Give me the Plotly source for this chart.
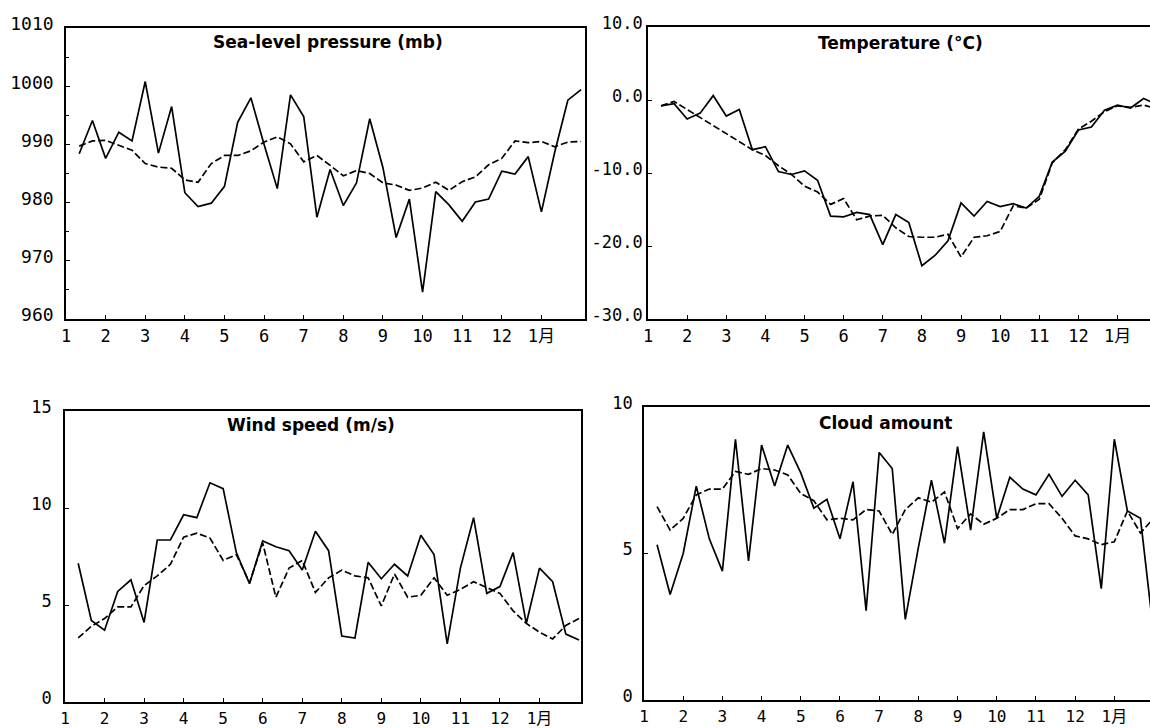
import plotly.graph_objects as go

W, H = 1150, 728

# Month axis: ticks at the start of each month, data at 10-day (dekad) steps
months = list(range(1, 14))
month_labels = [str(m) for m in range(1, 13)] + ["1月"]
dekad_x = [m + d / 3 for m in months for d in (1, 2, 3)]

# Sea-level pressure (mb): observed year and long-term mean
pressure_obs = [988.4, 994.1, 987.6, 992.1, 990.6, 1000.8, 988.5, 996.5, 981.7, 979.3,
                979.9, 982.8, 993.8, 998.0, 990.0, 982.4, 998.5, 994.8, 977.5, 985.7,
                979.5, 983.4, 994.4, 986.0, 974.0, 980.6, 964.6, 981.9, 979.6, 976.8,
                980.1, 980.6, 985.4, 984.9, 987.9, 978.4, 988.6, 997.6, 999.4]
pressure_mean = [989.7, 990.6, 990.7, 989.9, 989.0, 986.7, 986.1, 985.9, 983.9, 983.5,
                 986.7, 988.1, 988.1, 988.9, 990.4, 991.3, 990.1, 987.0, 988.1, 986.4,
                 984.6, 985.5, 985.0, 983.4, 983.0, 982.1, 982.5, 983.5, 982.1, 983.6,
                 984.4, 986.5, 987.6, 990.6, 990.3, 990.5, 989.6, 990.4, 990.5]

# Temperature (deg C)
temp_obs = [-0.8, -0.5, -2.6, -1.8, 0.6, -2.2, -1.3, -6.8, -6.4, -9.8,
            -10.2, -9.7, -11.0, -15.9, -16.0, -15.4, -15.7, -19.8, -15.7, -16.8,
            -22.7, -21.3, -19.3, -14.1, -15.9, -13.9, -14.6, -14.2, -14.8, -13.2,
            -8.5, -7.0, -4.1, -3.7, -1.4, -0.7, -1.1, 0.2, -0.6]
temp_mean = [-0.8, -0.2, -1.3, -2.4, -3.5, -4.6, -5.7, -6.8, -7.6, -9.0,
             -10.2, -11.8, -12.6, -14.3, -13.5, -16.4, -15.9, -15.8, -17.5, -18.7,
             -18.8, -18.8, -18.4, -21.5, -18.8, -18.6, -18.0, -14.5, -14.8, -13.6,
             -8.6, -6.8, -4.0, -2.9, -1.6, -0.8, -1.0, -0.7, -1.2]

# Wind speed (m/s)
wind_obs = [7.15, 4.2, 3.7, 5.7, 6.3, 4.1, 8.35, 8.35, 9.65, 9.5,
            11.3, 11.0, 7.7, 6.1, 8.3, 8.0, 7.8, 6.8, 8.8, 7.8,
            3.4, 3.3, 7.2, 6.35, 7.1, 6.5, 8.6, 7.6, 3.0, 6.9,
            9.5, 5.6, 5.95, 7.7, 4.05, 6.9, 6.2, 3.5, 3.2]
wind_mean = [3.3, 3.9, 4.3, 4.9, 4.9, 6.0, 6.5, 7.1, 8.5, 8.7,
             8.45, 7.3, 7.6, 6.15, 8.2, 5.4, 6.9, 7.3, 5.65, 6.4,
             6.8, 6.5, 6.4, 4.95, 6.6, 5.4, 5.5, 6.4, 5.5, 5.8,
             6.2, 5.9, 5.6, 4.7, 4.05, 3.6, 3.25, 3.95, 4.3]

# Cloud amount (tenths)
cloud_obs = [5.3, 3.6, 5.0, 7.3, 5.5, 4.4, 8.9, 4.75, 8.7, 7.3,
             8.7, 7.75, 6.55, 6.85, 5.5, 7.45, 3.05, 8.45, 7.9, 2.75,
             5.2, 7.5, 5.35, 8.65, 5.8, 9.15, 6.2, 7.6, 7.2, 7.0,
             7.7, 6.95, 7.5, 7.0, 3.8, 8.9, 6.45, 6.2, 2.3]
cloud_mean = [6.6, 5.8, 6.2, 7.0, 7.2, 7.2, 7.8, 7.7, 7.9, 7.85,
              7.68, 7.05, 6.8, 6.15, 6.2, 6.15, 6.5, 6.45, 5.65, 6.5,
              6.9, 6.75, 7.1, 5.85, 6.35, 6.0, 6.2, 6.5, 6.5, 6.7,
              6.7, 6.2, 5.6, 5.5, 5.3, 5.4, 6.45, 5.7, 6.2]

pressure_ticks = [960, 970, 980, 990, 1000, 1010]
temp_ticks = [-30, -20, -10, 0, 10]
wind_ticks = [0, 5, 10, 15]
cloud_ticks = [0, 5, 10]

MONO = "DejaVu Sans Mono, Noto Sans CJK JP"
TITLE_FONT = dict(family="DejaVu Sans", size=17, color="black")


def fx(p):
    return p / W


def fy(p):
    return 1 - p / H


# Panel frames in pixels: left, right, top, bottom
panels = [
    dict(obs=pressure_obs, mean=pressure_mean, box=(66, 585, 28, 319), xend=14.1,
         yrange=[960, 1010], yticks=pressure_ticks, ytext=[str(v) for v in pressure_ticks],
         closed=True, minor=5, standoff=7, fsize=18, xfsize=17,
         title="Sea-level pressure (mb)", tpos=(328, 42)),
    dict(obs=temp_obs, mean=temp_mean, box=(648, 1150, 27, 319), xend=13.83,
         yrange=[-30, 10], yticks=temp_ticks, ytext=[f"{v:.1f}" for v in temp_ticks],
         closed=False, minor=None, standoff=0, fsize=17, xfsize=17,
         title="Temperature (°C)", tpos=(900, 43)),
    dict(obs=wind_obs, mean=wind_mean, box=(65, 581, 411, 702), xend=14.05,
         yrange=[0, 15], yticks=wind_ticks, ytext=[str(v) for v in wind_ticks],
         closed=True, minor=None, standoff=8, fsize=17, xfsize=16,
         title="Wind speed (m/s)", tpos=(311, 425)),
    dict(obs=cloud_obs, mean=cloud_mean, box=(644, 1150, 407, 700), xend=13.91,
         yrange=[0, 10], yticks=cloud_ticks, ytext=[str(v) for v in cloud_ticks],
         closed=False, minor=None, standoff=6, fsize=17, xfsize=16,
         title="Cloud amount", tpos=(885, 423)),
]

fig = go.Figure()
layout = dict(
    width=W, height=H,
    margin=dict(l=0, r=0, t=0, b=0, autoexpand=False),
    paper_bgcolor="white", plot_bgcolor="white",
    showlegend=False,
    annotations=[],
)

for i, p in enumerate(panels, start=1):
    xa = "x" if i == 1 else f"x{i}"
    ya = "y" if i == 1 else f"y{i}"
    left, right, top, bottom = p["box"]

    fig.add_trace(go.Scatter(x=dekad_x, y=p["obs"], mode="lines", xaxis=xa, yaxis=ya,
                             line=dict(color="black", width=1.7), hoverinfo="skip"))
    fig.add_trace(go.Scatter(x=dekad_x, y=p["mean"], mode="lines", xaxis=xa, yaxis=ya,
                             line=dict(color="black", width=1.7, dash="7px,3px"),
                             hoverinfo="skip"))

    xaxis = dict(
        domain=[fx(left), fx(right)], range=[1, p["xend"]], anchor=ya,
        tickmode="array", tickvals=months, ticktext=month_labels,
        ticks="inside", ticklen=4, tickcolor="black", tickwidth=1.3,
        showline=True, linecolor="black", linewidth=1.6, mirror=True,
        showgrid=False, zeroline=False,
        tickfont=dict(family=MONO, size=p["xfsize"], color="black"),
        ticklabelstandoff=1, automargin=False, fixedrange=True,
    )
    yaxis = dict(
        domain=[fy(bottom), fy(top)], range=p["yrange"], anchor=xa,
        tickmode="array", tickvals=p["yticks"], ticktext=p["ytext"],
        ticks="inside", ticklen=4, tickcolor="black", tickwidth=1.3,
        showline=True, linecolor="black", linewidth=1.6, mirror=p["closed"],
        showgrid=False, zeroline=False,
        tickfont=dict(family=MONO, size=p["fsize"], color="black"),
        ticklabelstandoff=p["standoff"], ticklabelshift=-4,
        automargin=False, fixedrange=True,
    )
    if p["minor"]:
        yaxis["minor"] = dict(dtick=p["minor"], ticks="inside", ticklen=3,
                              tickcolor="black", showgrid=False)

    layout["xaxis" if i == 1 else f"xaxis{i}"] = xaxis
    layout["yaxis" if i == 1 else f"yaxis{i}"] = yaxis

    tx, ty = p["tpos"]
    layout["annotations"].append(dict(
        text=f"<b>{p['title']}</b>", x=fx(tx), y=fy(ty), xref="paper", yref="paper",
        xanchor="center", yanchor="middle", showarrow=False, font=TITLE_FONT,
    ))

fig.update_layout(**layout)
fig.write_html("out.html")
